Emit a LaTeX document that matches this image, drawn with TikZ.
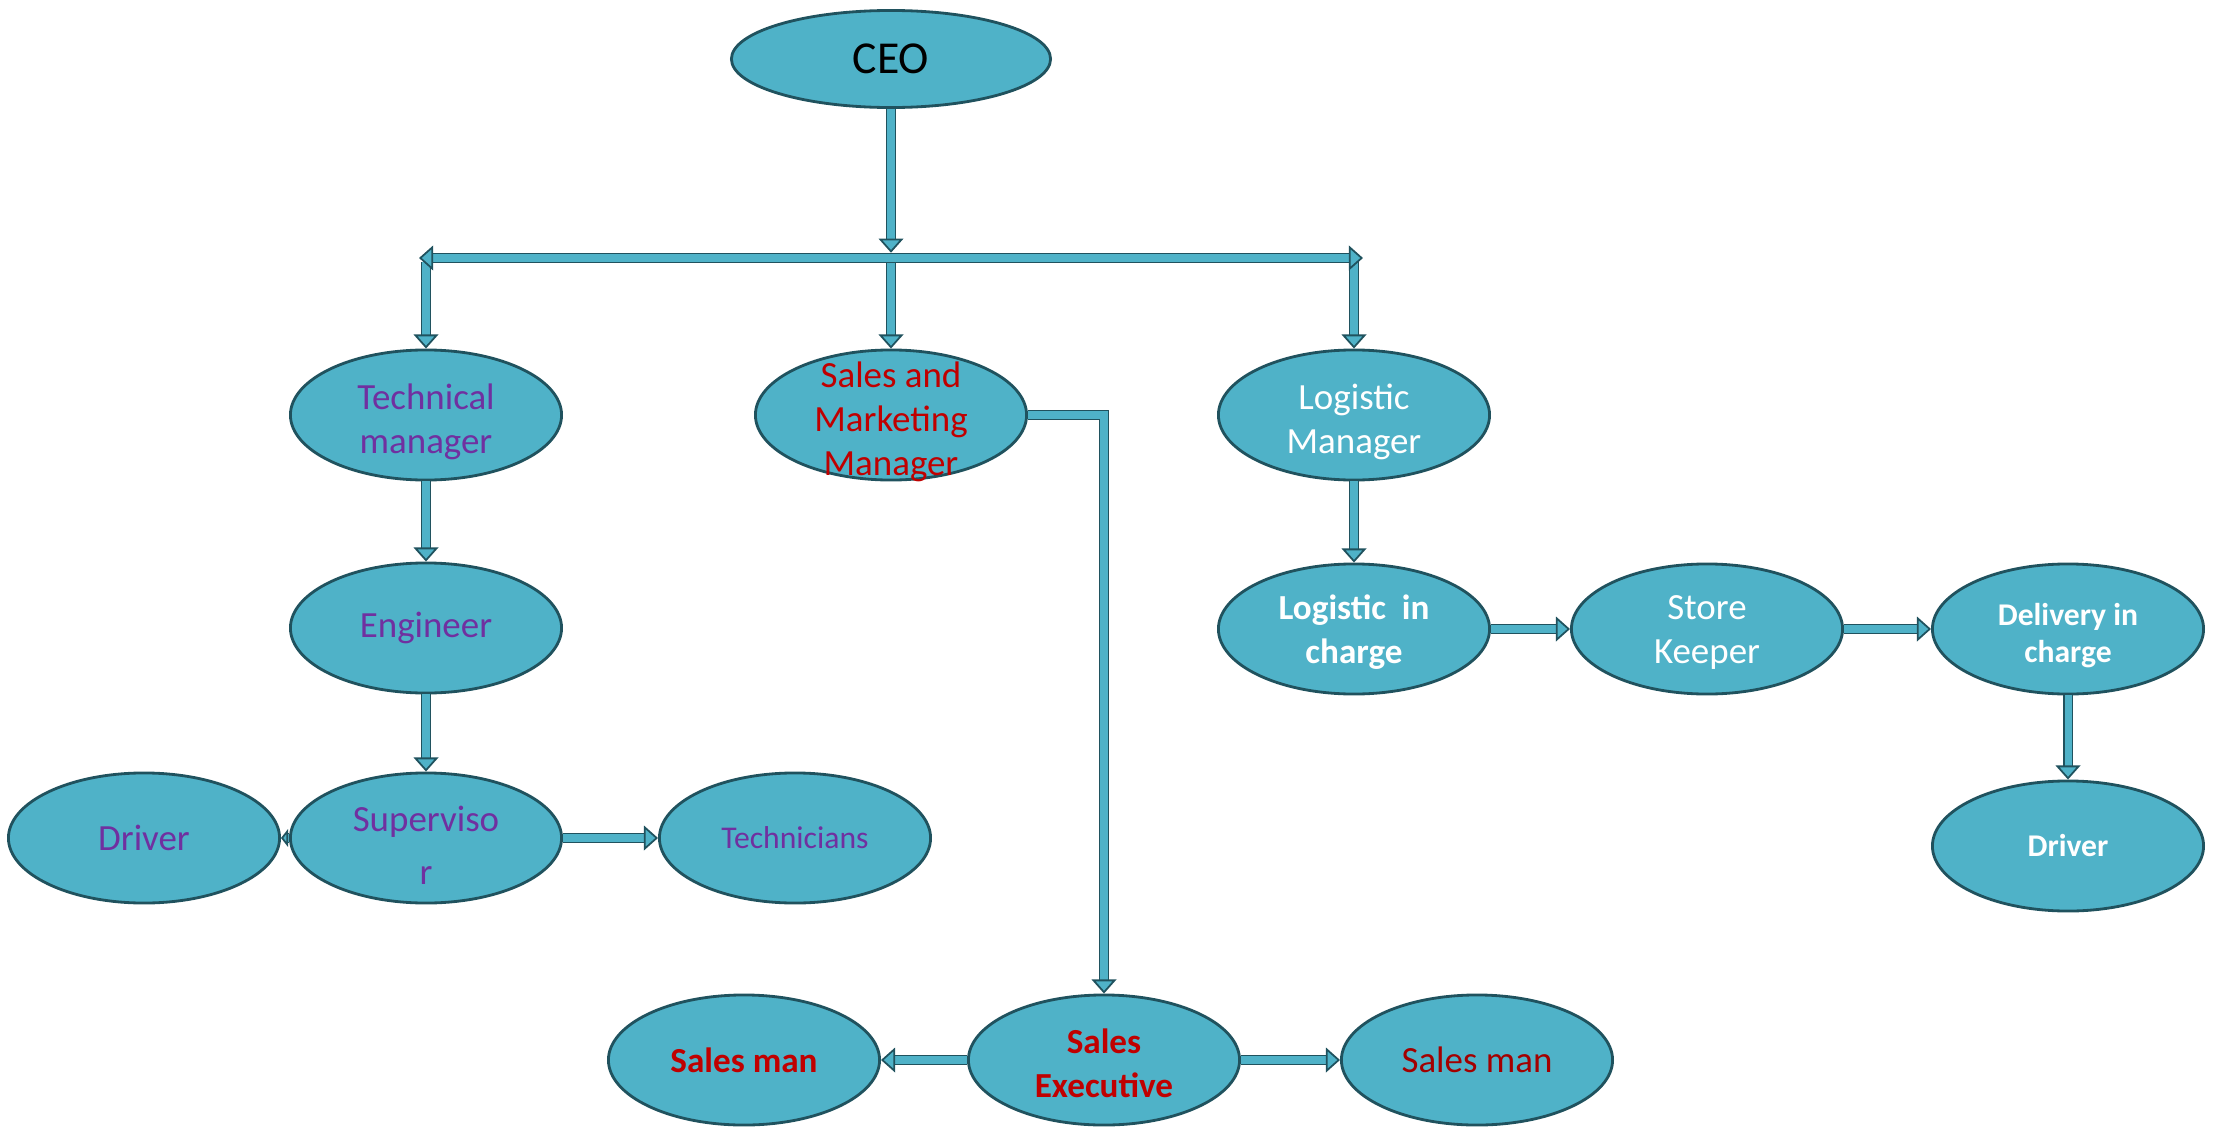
\documentclass[tikz,border=0pt]{standalone}
\usepackage{fontspec}
\setmainfont{Carlito}
\usetikzlibrary{arrows.meta,shapes.geometric}
\definecolor{boxfill}{RGB}{79,178,200}
\definecolor{boxline}{RGB}{32,82,94}
\definecolor{techpurple}{RGB}{112,48,160}
\definecolor{salesred}{RGB}{192,0,0}
\begin{document}
\begin{tikzpicture}[x=0.01cm,y=-0.01cm,
    post/.style={ellipse,draw=boxline,fill=boxfill,line width=0.8pt,inner sep=0pt,
        minimum width=2.71cm,minimum height=1.30cm,align=center,
        font=\fontsize{10.5}{12.5}\selectfont},
    words/.style={align=center,inner sep=0pt,yshift=-2pt,font=\fontsize{10.5}{12.5}\selectfont},
    link/.style={draw=boxline,double=boxfill,double distance=2pt,line width=0.5pt,
        -{Triangle[fill=boxfill,length=4pt,width=7pt]}}]
    \useasboundingbox (0,0) rectangle (2214,1127);
    % people
    \node[post,minimum width=3.19cm,minimum height=0.97cm,font=\fontsize{13}{15}\selectfont] (ceo) at (891,59) {CEO};
    \node[post,label={[words,text=techpurple]center:{Technical\\manager}}] (tech) at (426,415) {};
    \node[post,label={[words,text=salesred]center:{Sales and\\Marketing\\Manager}}] (sales) at (891,415) {};
    \node[post,label={[words,text=white]center:{Logistic\\Manager}}] (logi) at (1354,415) {};
    \node[post,text=techpurple] (eng) at (426,628) {Engineer};
    \node[post,label={[words,text=techpurple,font=\fontsize{10.5}{15}\selectfont]center:{Superviso\\r}}] (sup) at (426,838) {};
    \node[post,text=techpurple] (drvone) at (144,838) {Driver};
    \node[post,text=techpurple,font=\fontsize{9}{11}\selectfont] (techn) at (795,838) {Technicians};
    \node[post,label={[words,text=salesred,yshift=1pt,font=\fontsize{10}{12.5}\selectfont\bfseries]center:{Sales\\Executive}}] (exec) at (1104,1060) {};
    \node[post,text=salesred,font=\fontsize{10}{12.5}\selectfont\bfseries] (smone) at (744,1060) {Sales man};
    \node[post,text=salesred!85!black] (smtwo) at (1477,1060) {Sales man};
    \node[post,label={[words,text=white,yshift=1pt,font=\fontsize{10}{12.5}\selectfont\bfseries]center:{Logistic~~in\\charge}}] (logc) at (1354,629) {};
    \node[post,label={[words,text=white,yshift=1pt]center:{Store\\Keeper}}] (store) at (1707,629) {};
    \node[post,label={[words,text=white,font=\fontsize{9}{10.5}\selectfont\bfseries]center:{Delivery in\\charge}}] (deliv) at (2068,629) {};
    \node[post,text=white,font=\fontsize{9}{11}\selectfont\bfseries] (drvtwo) at (2068,846) {Driver};
    % bar under the CEO
    \coordinate (barl) at (419,258);
    \coordinate (barr) at (1363,258);
    \coordinate (barm) at (891,258);
    \coordinate (dtech) at (426,262);
    \coordinate (dsales) at (891,262);
    \coordinate (dlogi) at (1354,262);
    \draw[link] (dtech) -- (tech.north);
    \draw[link] (dsales) -- (sales.north);
    \draw[link] (dlogi) -- (logi.north);
    \draw[link,{Triangle[fill=boxfill,length=4pt,width=7pt]}-{Triangle[fill=boxfill,length=4pt,width=7pt]}] (barl) -- (barr);
    \draw[link,shorten >=1.5pt] (ceo) -- (barm);
    % technical
    \draw[link] (tech.south) -- (eng);
    \draw[link] (eng) -- (sup);
    \draw[link,-{Triangle[fill=boxfill,length=2pt,width=5pt]}] (sup) -- (drvone);
    \draw[link] (sup) -- (techn);
    % sales
    \draw[link] (sales.east) -| (exec.north);
    \draw[link] (exec) -- (smone);
    \draw[link] (exec) -- (smtwo);
    % logistics
    \draw[link] (logi.south) -- (logc);
    \draw[link] (logc) -- (store);
    \draw[link] (store) -- (deliv);
    \draw[link] (deliv) -- (drvtwo);
\end{tikzpicture}
\end{document}
